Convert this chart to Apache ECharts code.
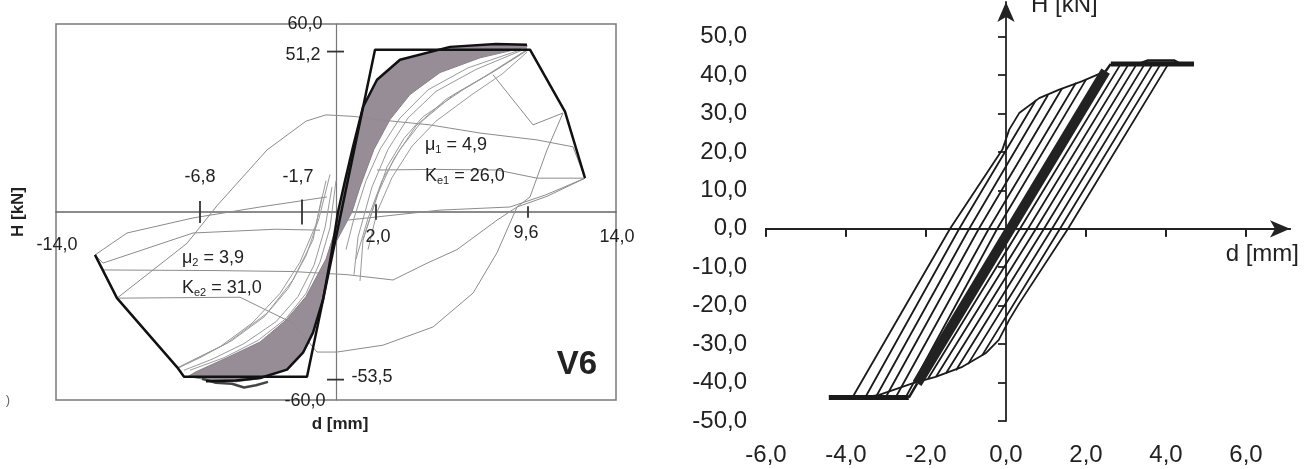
<!DOCTYPE html>
<html>
<head>
<meta charset="utf-8">
<script src="https://cdn.jsdelivr.net/npm/echarts@6.0.0/dist/echarts.min.js"></script>
<style>
  html, body { margin: 0; padding: 0; background: #fff; }
  #chart { width: 1308px; height: 469px; }
</style>
</head>
<body>
<div id="chart"></div>
<script>
"use strict";

// ---- left panel (V6), d [mm] vs H [kN] ----
var leftEnvelope = [[-12.05, -13.7], [-10.95, -27.5], [-7.95, -49.5], [-7.6, -52.6], [-1.45, -52.6], [1.95, 51.8], [9.7, 51.8], [11.45, 32.0], [12.45, 10.8]];
var leftSkeleton = [[-6.5, -54.0], [-5.0, -53.8], [-3.8, -53.0], [-2.45, -50.3], [-1.65, -44.9], [-1.15, -38.5], [-0.65, -28.0], [-0.25, -14.0], [0.1, 0], [0.45, 10.0], [0.85, 20.8], [1.35, 33.5], [2.05, 42.2], [3.2, 48.6], [5.7, 52.7], [8.0, 53.6], [9.55, 53.4]];
var leftBand = [
  [9.55, 53.2], [8.0, 53.4], [5.7, 52.6], [3.2, 48.6], [2.05, 42.2], [1.35, 33.5], [0.85, 20.8], [0.35, 5.0], [0.0, -5.0],
  [-0.5, -15.0], [-1.5, -27.0], [-2.5, -34.5], [-3.8, -41.5], [-5.45, -46.5], [-7.0, -51.0], [-7.4, -52.5],
  [-6.5, -53.5], [-5.0, -54.2], [-3.8, -53.2], [-2.45, -50.3], [-1.65, -44.9], [-1.15, -38.5], [-0.65, -28.0],
  [-0.2, -12.0], [0.3, -6.0], [0.8, 0], [1.2, 8.0], [1.9, 20.0], [2.7, 29.5], [3.7, 37.5], [5.2, 44.5], [7.2, 49.2], [9.55, 52.7]
];
var leftInnerLoops = [
  [[0.5, -12.0], [0.9, -2.0], [1.5, 10.0], [2.2, 20.0], [3.2, 30.0], [4.6, 39.0], [6.6, 46.0], [9.55, 52.5]],
  [[0.9, -20.0], [1.1, -8.0], [1.8, 8.0], [2.6, 20.0], [3.6, 30.0], [5.0, 38.5], [7.0, 45.5], [9.55, 52.3]],
  [[1.0, -15.0], [1.6, -2.0], [2.3, 10.0], [3.2, 20.0], [4.3, 29.0], [5.9, 37.5], [7.8, 44.5], [9.55, 51.5]],
  [[1.2, -22.0], [1.35, -8.9], [2.1, 6.0], [2.9, 17.0], [4.0, 27.5], [5.5, 36.0], [7.5, 43.5], [9.55, 51.8]],
  [[1.35, -8.9], [1.9, 2.0], [2.55, 14.4], [3.4, 23.5], [4.35, 30.4], [6.35, 39.0], [8.0, 45.3], [9.55, 51.8]],
  [[1.6, -12.0], [2.05, 0], [2.8, 11.0], [3.8, 21.0], [5.0, 29.0], [6.8, 37.5], [8.3, 44.0], [9.55, 51.0]],
  [[0.0, 10.0], [-0.3, -5.0], [-0.8, -16.0], [-1.5, -26.0], [-2.5, -34.0], [-3.9, -41.0], [-5.6, -46.5], [-7.3, -50.5]],
  [[-0.2, 8.0], [-0.55, -5.0], [-1.1, -17.0], [-1.9, -27.0], [-3.0, -35.0], [-4.6, -42.0], [-6.2, -47.0], [-7.6, -50.5]],
  [[-0.3, 12.0], [-0.85, -2.0], [-1.5, -14.0], [-2.4, -24.5], [-3.6, -33.5], [-5.2, -41.0], [-6.8, -46.5], [-7.9, -49.8]],
  [[-0.5, 10.0], [-1.0, -4.0], [-1.8, -16.0], [-2.8, -26.0], [-4.2, -35.5], [-5.8, -43.0], [-7.2, -47.5], [-7.95, -50.0]],
  [[-0.7, 5.0], [-1.15, -8.9], [-2.15, -21.7], [-3.45, -32.3], [-5.45, -41.9], [-7.45, -48.2], [-7.95, -49.8]]
];
var leftOuterLoops = [
  [[-10.95, -27.5], [-7.45, -10.0], [-5.95, 2.0], [-3.45, 19.8], [-1.5, 29.0], [-0.5, 31.0], [0.9, 30.5], [2.2, 29.4], [4.7, 27.8], [7.2, 25.2], [10.05, 23.0], [11.85, 20.8], [12.45, 10.8]],
  [[12.45, 10.8], [10.55, 5.0], [9.05, 1.6], [8.05, -2.6], [6.05, -12.0], [4.5, -16.5], [2.85, -21.7], [0.55, -20.0], [-2.15, -19.0], [-6.0, -18.7], [-11.65, -18.5], [-12.05, -13.7]],
  [[11.35, 31.6], [10.55, 19.8], [9.7, 4.8], [9.05, 1.6], [8.05, -13.0], [6.85, -25.9], [4.85, -36.7], [2.35, -42.5], [0.05, -44.7], [-0.95, -44.7], [-2.15, -35.5], [-4.8, -27.2], [-10.95, -27.5]],
  [[-12.05, -13.7], [-10.45, -6.7], [-7.15, -1.9], [-3.8, 1.6], [-0.45, 4.8]],
  [[-12.05, -13.7], [-11.65, -16.3], [-7.15, -6.7], [-3.0, -5.5], [-0.8, -5.8]],
  [[7.85, 43.8], [9.85, 27.8], [11.35, 31.6]],
  [[2.05, 13.4], [5.0, 13.6], [8.05, 13.4], [10.05, 10.8], [12.35, 10.8]],
  [[0.55, -2.6], [5.2, 0.6], [8.7, 1.6], [10.5, 5.5], [12.45, 10.8]]
];
var leftBottomScrap = [[-6.7, -53.2], [-6.0, -54.5], [-5.2, -54.8], [-4.6, -56.0], [-4.0, -55.3], [-3.4, -54.2]];
var leftMarksX = [-6.8, -1.7, 2.0, 9.6];
var leftMarksY = [51.2, -53.5];
var leftLimitsX = [-14.0, 14.0];
var leftLimitsY = [60.0, -60.0];

// ---- right panel, d [mm] vs H [kN] ----
var rightTicksX = [-6, -4, -2, 0, 2, 4, 6];
var rightTicksY = [-50, -40, -30, -20, -10, 0, 10, 20, 30, 40, 50];
var rightBold = [[-2.22, -40.2], [2.49, 41.0]];
var rightTopPlateau = [[2.62, 42.9], [4.7, 42.9]];
var rightBottomPlateau = [[-4.43, -43.9], [-2.43, -43.9]];
var rightSteps = [[[-2.43, -43.9], [-2.22, -40.2]], [[2.49, 41.0], [2.62, 42.9]], [[3.35, 43.0], [3.55, 43.8], [4.2, 43.8], [4.35, 43.0]]];
var rightUpperCurve = [[-3.84, -43.9], [-1.4, 0], [-0.09, 20.6], [0.08, 25.8], [0.33, 30.1], [0.83, 34.0], [1.33, 36.2], [1.91, 38.4], [2.49, 41.0]];
var rightLowerCurve = [[4.06, 42.9], [1.55, 0], [0.33, -19.4], [0.08, -23.7], [-0.18, -28.9], [-0.51, -32.4], [-1.09, -35.9], [-1.76, -38.5], [-2.34, -40.2], [-3.17, -43.2], [-3.59, -43.9]];
var rightLeftFamily = [
  [[-3.52, -43.9], [-1.17, 0], [0.75, 33.5]],
  [[-3.26, -43.9], [-0.92, 0], [1.05, 34.8]],
  [[-3.01, -43.9], [-0.68, 0], [1.4, 36.5]],
  [[-2.76, -43.9], [-0.43, 0], [1.75, 38.0]],
  [[-2.51, -43.9], [-0.22, 0], [2.0, 38.8]]
];
var rightRightFamily = [
  [[-1.95, -39.0], [0.35, 0], [2.87, 42.9]],
  [[-1.75, -38.5], [0.55, 0], [3.07, 42.9]],
  [[-1.5, -37.6], [0.75, 0], [3.27, 42.9]],
  [[-1.25, -36.8], [0.95, 0], [3.47, 42.9]],
  [[-0.95, -35.2], [1.15, 0], [3.67, 42.9]],
  [[-0.6, -33.0], [1.35, 0], [3.87, 42.9]]
];

var fmt = function(v) {
  return v.toFixed(1).replace('.', ',');
};

var FONT = '"Liberation Sans", Arial, sans-serif';

var line = function(points, grid, color, width) {
  return {
    type: 'line',
    xAxisIndex: grid,
    yAxisIndex: grid === 0 ? 0 : 1,
    data: points,
    symbol: 'none',
    silent: true,
    lineStyle: { color: color, width: width },
    z: 3
  };
};

var series = [];

series.push({
  type: 'custom',
  xAxisIndex: 0,
  yAxisIndex: 0,
  data: [[0, 0]],
  silent: true,
  z: 1,
  renderItem: function(params, api) {
    var pts = leftBand.map(function(p) { return api.coord(p); });
    return { type: 'polygon', shape: { points: pts }, style: { fill: '#978d97', stroke: '#8a8089', lineWidth: 1 } };
  }
});

leftOuterLoops.forEach(function(l) { series.push(line(l, 0, '#8c8c8c', 1)); });
leftInnerLoops.forEach(function(l) { series.push(line(l, 0, '#9a9a9a', 1)); });
series.push(line(leftBottomScrap, 0, '#444', 2.5));
series.push(line(leftSkeleton, 0, '#111', 2.5));
series.push(line(leftEnvelope, 0, '#111', 2.5));

// short tick marks on the left panel axes
var xMarkHalf = [3.5, 4.0, 2.5, 1.8];
leftMarksX.forEach(function(x, i) {
  series.push(line([[x, -xMarkHalf[i]], [x, xMarkHalf[i]]], 0, '#333', 1.8));
});
leftMarksY.forEach(function(y) {
  series.push(line([[-0.45, y], [0.4, y]], 0, '#333', 1.8));
});

// right panel
rightLeftFamily.forEach(function(l) { series.push(line(l, 1, '#1a1a1a', 1.8)); });
rightRightFamily.forEach(function(l) { series.push(line(l, 1, '#1a1a1a', 1.8)); });
series.push(line(rightUpperCurve, 1, '#1a1a1a', 1.8));
series.push(line(rightLowerCurve, 1, '#1a1a1a', 1.8));
rightSteps.forEach(function(l) { series.push(line(l, 1, '#1a1a1a', 2.5)); });
series.push(line(rightBold, 1, '#222', 10));
series.push(line(rightTopPlateau, 1, '#1a1a1a', 5));
series.push(line(rightBottomPlateau, 1, '#1a1a1a', 5));

var hidden = { show: false };

var option = {
  animation: false,
  backgroundColor: '#fff',
  grid: [
    { left: 56, right: 692, top: 24, bottom: 69, show: true, borderColor: '#7a7a7a', borderWidth: 1.5, backgroundColor: 'transparent' },
    { left: 766, right: 18, top: 2, bottom: 48 }
  ],
  xAxis: [
    { gridIndex: 0, type: 'value', min: -14, max: 14, axisLine: { onZero: true, lineStyle: { color: '#666', width: 1.5 } }, axisTick: hidden, axisLabel: hidden, splitLine: hidden },
    { gridIndex: 1, type: 'value', min: -6, max: 7.1,
      axisLine: { onZero: true, symbol: ['none', 'arrow'], symbolSize: [13, 20], lineStyle: { color: '#222', width: 1.8 } },
      axisTick: { customValues: [-6, -4, -2, 2, 4, 6], length: 8, lineStyle: { color: '#222', width: 1.8 } },
      axisLabel: hidden, splitLine: hidden },
    { gridIndex: 1, type: 'value', min: -6, max: 7.1,
      axisLine: { onZero: true, lineStyle: { color: '#222', width: 1.8 } },
      axisTick: { inside: true, customValues: [-6, -4, -2, 2, 4, 6], length: 8, lineStyle: { color: '#222', width: 1.8 } },
      axisLabel: hidden, splitLine: hidden },
    { gridIndex: 1, type: 'value', min: -6, max: 7.1, position: 'bottom',
      axisLine: { show: false, onZero: false }, axisTick: hidden, splitLine: hidden,
      axisLabel: { customValues: rightTicksX, formatter: fmt, margin: 22, fontSize: 24, fontFamily: FONT, color: '#222' } }
  ],
  yAxis: [
    { gridIndex: 0, type: 'value', min: -60, max: 60, axisLine: { onZero: true, lineStyle: { color: '#777', width: 1.2 } }, axisTick: hidden, axisLabel: hidden, splitLine: hidden },
    { gridIndex: 1, type: 'value', min: -50, max: 59,
      axisLine: { onZero: true, symbol: ['none', 'arrow'], symbolSize: [13, 20], lineStyle: { color: '#222', width: 1.8 } },
      axisTick: { customValues: [-50, -40, -30, -20, -10, 10, 20, 30, 40, 50], length: 8, lineStyle: { color: '#222', width: 1.8 } },
      axisLabel: hidden, splitLine: hidden },
    { gridIndex: 1, type: 'value', min: -50, max: 59, position: 'left',
      axisLine: { show: false, onZero: false }, axisTick: hidden, splitLine: hidden,
      axisLabel: { customValues: rightTicksY, formatter: fmt, margin: 19, fontSize: 24, fontFamily: FONT, color: '#222' } }
  ],
  series: series
};

var chart = echarts.init(document.getElementById('chart'), null, { renderer: 'canvas' });
chart.setOption(option);

// texts placed from the axes' own scales
var px = function(grid, p) {
  return chart.convertToPixel({ gridIndex: grid }, p);
};

var graphics = [];
var txt = function(x, y, text, opts) {
  var style = {
    x: x, y: y, text: text,
    font: (opts.weight || 'normal') + ' ' + (opts.size || 18) + 'px ' + FONT,
    fill: opts.color || '#222',
    align: opts.align || 'center',
    verticalAlign: opts.valign || 'middle'
  };
  if (opts.rich) { style.rich = opts.rich; }
  graphics.push({ type: 'text', x: 0, y: 0, style: style, z: 10 });
};
var txtRot = function(x, y, text, opts) {
  graphics.push({
    type: 'text', x: x, y: y, rotation: Math.PI / 2, z: 10,
    style: { x: 0, y: 0, text: text, font: 'bold ' + opts.size + 'px ' + FONT, fill: '#222', align: 'center', verticalAlign: 'middle' }
  });
};

var p;
p = px(0, [0, leftLimitsY[0]]); txt(p[0] - 31, p[1], fmt(leftLimitsY[0]), {});
p = px(0, [0, leftLimitsY[1]]); txt(p[0] - 31, p[1] + 1, fmt(leftLimitsY[1]), {});
p = px(0, [0, leftMarksY[0]]); txt(p[0] - 33, p[1] + 3, fmt(leftMarksY[0]), {});
p = px(0, [0, leftMarksY[1]]); txt(p[0] + 36, p[1] - 3, fmt(leftMarksY[1]), {});
p = px(0, [leftMarksX[0], 0]); txt(p[0], p[1] - 35, fmt(leftMarksX[0]), {});
p = px(0, [leftMarksX[1], 0]); txt(p[0] - 4, p[1] - 35, fmt(leftMarksX[1]), {});
p = px(0, [leftMarksX[2], 0]); txt(p[0] + 2, p[1] + 25, fmt(leftMarksX[2]), {});
p = px(0, [leftMarksX[3], 0]); txt(p[0] - 2, p[1] + 21, fmt(leftMarksX[3]), {});
p = px(0, [leftLimitsX[0], 0]); txt(p[0] + 1, p[1] + 33, fmt(leftLimitsX[0]), {});
p = px(0, [leftLimitsX[1], 0]); txt(p[0] + 1, p[1] + 25, fmt(leftLimitsX[1]), {});

var sub = { a: { fontSize: 18, fontFamily: FONT, color: '#222' }, s: { fontSize: 11, fontFamily: FONT, color: '#222', padding: [9, 0, 0, 0] } };
txt(425, 145, '{a|μ}{s|1}{a| = 4,9}', { align: 'left', rich: sub });
txt(425, 176, '{a|K}{s|e1}{a| = 26,0}', { align: 'left', rich: sub });
txt(182, 258, '{a|μ}{s|2}{a| = 3,9}', { align: 'left', rich: sub });
txt(182, 288, '{a|K}{s|e2}{a| = 31,0}', { align: 'left', rich: sub });
txt(577, 365, 'V6', { size: 33, weight: 'bold' });
txt(340, 424, 'd [mm]', { size: 17, weight: 'bold' });
txtRot(18, 212, 'H [kN]', { size: 17 });
txt(8, 400, ')', { size: 13, color: '#666' });

p = px(1, [0, 59]); txt(p[0] + 25, p[1] + 3, 'H [kN]', { size: 24, align: 'left' });
p = px(1, [7.1, 0]); txt(p[0] + 9, p[1] + 26, 'd [mm]', { size: 24, align: 'right' });

chart.setOption({ graphic: graphics });
</script>
</body>
</html>
